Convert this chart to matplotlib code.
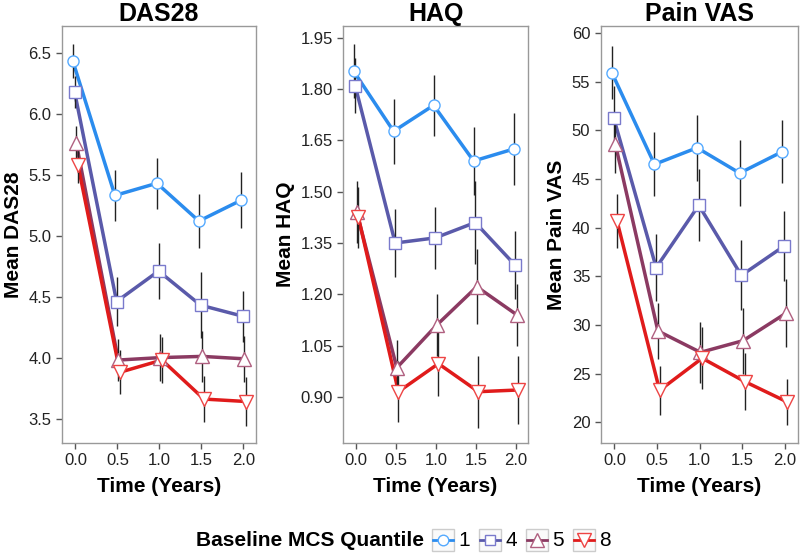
import matplotlib
matplotlib.use("Agg")
from matplotlib import pyplot as plt
from matplotlib.patches import Rectangle
import numpy as np

plt.rcParams['font.family'] = ['Liberation Sans', 'DejaVu Sans']

times = [0.0, 0.5, 1.0, 1.5, 2.0]
groups = ['1', '4', '5', '8']

# DAS28 means and half-widths of error bars
das_mean = {
    '1': [6.43, 5.33, 5.43, 5.12, 5.29],
    '4': [6.18, 4.46, 4.71, 4.43, 4.34],
    '5': [5.76, 3.98, 4.00, 4.01, 3.99],
    '8': [5.58, 3.88, 3.98, 3.66, 3.64],
}
das_err = {
    '1': [0.14, 0.21, 0.21, 0.22, 0.23],
    '4': [0.13, 0.20, 0.23, 0.27, 0.21],
    '5': [0.14, 0.17, 0.19, 0.21, 0.19],
    '8': [0.15, 0.18, 0.19, 0.19, 0.20],
}

haq_mean = {
    '1': [1.853, 1.677, 1.753, 1.590, 1.625],
    '4': [1.810, 1.350, 1.365, 1.410, 1.285],
    '5': [1.440, 0.985, 1.110, 1.222, 1.140],
    '8': [1.425, 0.915, 0.997, 0.915, 0.920],
}
haq_err = {
    '1': [0.08, 0.095, 0.09, 0.10, 0.105],
    '4': [0.08, 0.10, 0.09, 0.12, 0.10],
    '5': [0.09, 0.08, 0.09, 0.11, 0.09],
    '8': [0.09, 0.09, 0.095, 0.105, 0.10],
}

vas_mean = {
    '1': [55.9, 46.5, 48.2, 45.6, 47.8],
    '4': [51.3, 35.9, 42.3, 35.1, 38.1],
    '5': [48.6, 29.4, 27.2, 28.4, 31.2],
    '8': [40.7, 23.3, 26.6, 24.2, 22.1],
}
vas_err = {
    '1': [2.7, 3.3, 3.4, 3.4, 3.2],
    '4': [3.2, 3.4, 3.7, 3.6, 3.6],
    '5': [3.0, 2.9, 3.1, 3.4, 3.5],
    '8': [2.8, 2.5, 3.2, 2.9, 2.4],
}

line_colors = {'1': '#2b8cee', '4': '#5a5aaa', '5': '#8b3a62', '8': '#e01b1b'}
edge_colors = {'1': '#55aaff', '4': '#7a7acc', '5': '#b06080', '8': '#ee4444'}
markers = {'1': 'o', '4': 's', '5': '^', '8': 'v'}
msizes = {'1': 8, '4': 8, '5': 10.5, '8': 10.5}
dodge = {'1': -0.03, '4': -0.01, '5': 0.01, '8': 0.03}

panels = [
    ('DAS28', 'Mean DAS28', das_mean, das_err, (3.30, 6.72), [3.5, 4.0, 4.5, 5.0, 5.5, 6.0, 6.5], '{:.1f}',
     [0.0775, 0.199, 0.2425, 0.754]),
    ('HAQ', 'Mean HAQ', haq_mean, haq_err, (0.765, 1.985), [0.90, 1.05, 1.20, 1.35, 1.50, 1.65, 1.80, 1.95], '{:.2f}',
     [0.429, 0.199, 0.231, 0.754]),
    ('Pain VAS', 'Mean Pain VAS', vas_mean, vas_err, (17.9, 60.7), [20, 25, 30, 35, 40, 45, 50, 55, 60], '{:.0f}',
     [0.751, 0.199, 0.246, 0.754]),
]

fig = plt.figure(figsize=(8, 5.53), dpi=100)

for title, ylabel, means, errs, ylim, yticks, fmt, pos in panels:
    ax = fig.add_axes(pos)
    for g in groups:
        x = np.array(times) + dodge[g]
        ax.plot(x, means[g], color=line_colors[g], lw=2.5, zorder=2)
        ax.errorbar(x, means[g], yerr=errs[g], fmt='none', ecolor='#222222', elinewidth=1.0, capsize=0, zorder=3)
        ax.plot(x, means[g], linestyle='none', marker=markers[g], markersize=msizes[g],
                markerfacecolor='white', markeredgecolor=edge_colors[g], markeredgewidth=1.0, zorder=4)
    ax.set_xlim(-0.16, 2.15)
    ax.set_ylim(*ylim)
    ax.set_xticks(times)
    ax.set_xticklabels(['{:.1f}'.format(t) for t in times])
    ax.set_yticks(yticks)
    ax.set_yticklabels([fmt.format(v) for v in yticks])
    ax.tick_params(axis='both', direction='out', length=4.5, width=1, color='#555555', labelsize=12,
                   labelcolor='#222222', pad=3)
    for s in ax.spines.values():
        s.set_color('#999999')
        s.set_linewidth(1)
    ax.set_title(title, fontsize=18, fontweight='bold', pad=3)
    ax.set_ylabel(ylabel, fontsize=15, fontweight='bold', labelpad=4)
    ax.set_xlabel('Time (Years)', fontsize=15, fontweight='bold', labelpad=6)

# legend drawn in a pixel-coordinate overlay
lg = fig.add_axes([0, 0, 1, 1], facecolor='none')
lg.set_xlim(0, 800)
lg.set_ylim(553, 0)
lg.axis('off')
lg.text(424, 540, 'Baseline MCS Quantile', ha='right', va='center', fontsize=15, fontweight='bold')
for i, g in enumerate(groups):
    cx = 443 + 47 * i
    lg.add_patch(Rectangle((cx - 11, 529), 22, 22, facecolor='#fafafa', edgecolor='#cccccc', lw=1))
    lg.plot([cx - 10, cx + 10], [540, 540], color=line_colors[g], lw=2)
    lg.plot([cx], [540], marker=markers[g], markersize=msizes[g] * 0.95, markerfacecolor='white',
            markeredgecolor=edge_colors[g], markeredgewidth=1.0)
    lg.text(cx + 15, 541, g, ha='left', va='center', fontsize=15)

plt.savefig('out.png', dpi=100)
